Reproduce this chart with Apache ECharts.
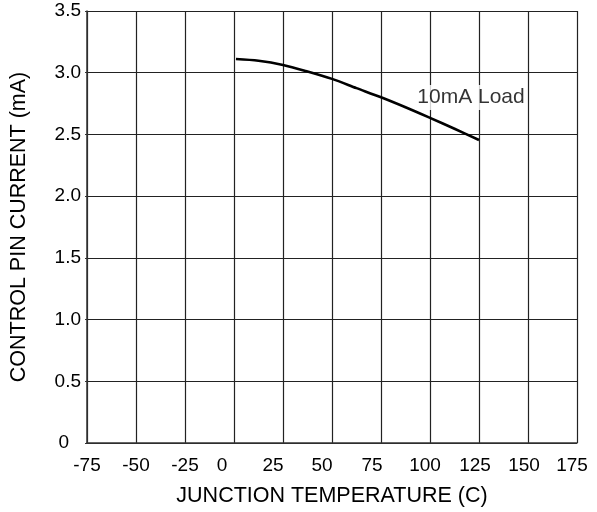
<!DOCTYPE html>
<html>
<head>
<meta charset="utf-8">
<script src="https://cdn.jsdelivr.net/npm/echarts@6/dist/echarts.min.js"></script>
<style>html,body{margin:0;padding:0;background:#fff;}#c{width:597px;height:512px;}</style>
</head>
<body>
<div id="c"></div>
<script>
// Data
var tempC = [1, 12.5, 25, 37.5, 50, 62.5, 75, 87.5, 100, 112.5, 125];
var pinCurrent = [3.111, 3.097, 3.063, 3.01, 2.95, 2.875, 2.801, 2.72, 2.634, 2.546, 2.455];
var seriesName = '10mA Load';
var labelAnchor = [93, 2.80];
var xTicks = [-75, -50, -25, 0, 25, 50, 75, 100, 125, 150, 175];
var yTicks = [0, 0.5, 1.0, 1.5, 2.0, 2.5, 3.0, 3.5];

// Layout / style: leftward nudge (px) of some x tick labels, as in the source figure
var xLabelNudge = {'0': 12, '25': 10, '50': 10, '75': 9, '100': 5, '125': 4, '150': 4, '175': 5};

var FONT = 'Liberation Sans, Arial, sans-serif';
var xRich = {};
Object.keys(xLabelNudge).forEach(function (k, i) {
  xRich['n' + i] = {fontFamily: FONT, fontSize: 19, color: '#000', padding: [0, 2 * xLabelNudge[k], 0, 0]};
});
var nudgeKeys = Object.keys(xLabelNudge);

var chart = echarts.init(document.getElementById('c'), null, {renderer: 'canvas'});
chart.setOption({
  animation: false,
  backgroundColor: '#fff',
  grid: {left: 83, right: 20, top: 11, bottom: 68, containLabel: false},
  xAxis: {
    type: 'value', min: xTicks[0], max: xTicks[xTicks.length - 1], interval: 25,
    name: 'JUNCTION TEMPERATURE (C)', nameLocation: 'middle', nameGap: 42,
    nameTextStyle: {fontFamily: FONT, fontSize: 21.5, color: '#000'},
    axisLine: {show: true, onZero: false, lineStyle: {color: '#333', width: 1.5}},
    axisTick: {show: false},
    axisLabel: {
      fontFamily: FONT, fontSize: 19, color: '#000', margin: 13,
      formatter: function (v) {
        var k = String(v), i = nudgeKeys.indexOf(k);
        return i >= 0 ? '{n' + i + '|' + k + '}' : k;
      },
      rich: xRich
    },
    splitLine: {show: true, lineStyle: {color: '#222', width: 1.2}}
  },
  yAxis: {
    type: 'value', min: yTicks[0], max: yTicks[yTicks.length - 1], interval: 0.5,
    name: 'CONTROL PIN CURRENT (mA)', nameLocation: 'middle', nameGap: 57,
    nameTextStyle: {fontFamily: FONT, fontSize: 21.5, color: '#000'},
    axisLine: {show: true, onZero: false, lineStyle: {color: '#333', width: 1.5}},
    axisTick: {show: true, length: 2, lineStyle: {color: '#333'}},
    axisLabel: {
      fontFamily: FONT, fontSize: 19, color: '#000', margin: 6,
      formatter: function (v) { return v === 0 ? '{z|0}' : v.toFixed(1); },
      rich: {z: {fontFamily: FONT, fontSize: 19, color: '#000', padding: [0, 12, 0, 0]}}
    },
    splitLine: {show: true, lineStyle: {color: '#222', width: 1.2}}
  },
  series: [
    {
      name: seriesName, type: 'line', smooth: 0.3, symbol: 'none',
      data: tempC.map(function (t, i) { return [t, pinCurrent[i]]; }),
      lineStyle: {color: '#000', width: 2.6}, z: 3
    },
    {
      name: seriesName + ' label', type: 'scatter', symbolSize: 0, silent: true,
      data: [labelAnchor],
      label: {
        show: true, position: 'right', distance: 0, formatter: seriesName,
        fontFamily: FONT, fontSize: 21, color: '#000',
        backgroundColor: '#fff', padding: [2, 1, 2, 1]
      }, z: 4
    }
  ]
});
</script>
</body>
</html>
